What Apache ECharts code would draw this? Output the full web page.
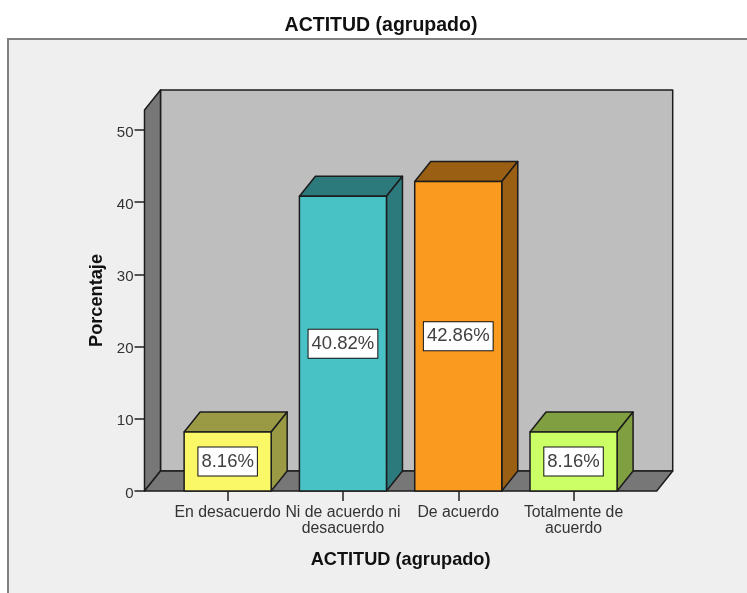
<!DOCTYPE html>
<html>
<head>
<meta charset="utf-8">
<style>html,body{margin:0;padding:0;background:#fff}#chart{width:747px;height:593px}</style>
<script src="https://cdn.jsdelivr.net/npm/echarts@6/dist/echarts.min.js"></script>
</head>
<body>
<div id="chart"></div>
<script>
// ACTITUD (agrupado): percentage per response group, drawn as 3D-style bars
const categories = ['En desacuerdo', 'Ni de acuerdo ni\ndesacuerdo', 'De acuerdo', 'Totalmente de\nacuerdo'];
const percentages = [8.16, 40.82, 42.86, 8.16];
const frontColors = ['#FBF867', '#48C2C5', '#FA9A1E', '#CCFF66'];
const shadeColors = ['#9A9A45', '#2D7A7C', '#9A5F12', '#7F9F40'];
const yTicks = [0, 10, 20, 30, 40, 50];
const yTop = 52.77;

// Oblique projection used for the box depth and the chart frame
const DEPTH_X = 16;
const DEPTH_Y = -20;
const FRAME_PAD = 25.5;
const EDGE = { stroke: '#1c1c1c', lineWidth: 1.5, lineJoin: 'round' };

function poly(points, fill) {
  return { type: 'polygon', shape: { points }, style: Object.assign({ fill }, EDGE) };
}

function renderFrame(params) {
  const c = params.coordSys;
  const l = c.x - FRAME_PAD, r = c.x + c.width + FRAME_PAD;
  const t = c.y, b = c.y + c.height;
  const dx = DEPTH_X, dy = DEPTH_Y;
  return {
    type: 'group',
    children: [
      poly([[l + dx, t + dy], [r + dx, t + dy], [r + dx, b + dy], [l + dx, b + dy]], '#BEBEBE'),
      poly([[l, t], [l + dx, t + dy], [l + dx, b + dy], [l, b]], '#777777'),
      poly([[l, b], [l + dx, b + dy], [r + dx, b + dy], [r, b]], '#777777')
    ]
  };
}

function renderBox(params, api) {
  const i = api.value(0);
  const v = api.value(1);
  const top = api.coord([i, v]);
  const base = api.coord([i, 0]);
  const w = api.size([1, 0])[0] * 0.755;
  const x0 = top[0] - w / 2, x1 = top[0] + w / 2;
  const dx = DEPTH_X, dy = DEPTH_Y;
  return {
    type: 'group',
    children: [
      poly([[x0, top[1]], [x0 + dx, top[1] + dy], [x1 + dx, top[1] + dy], [x1, top[1]]], shadeColors[i]),
      poly([[x1, top[1]], [x1 + dx, top[1] + dy], [x1 + dx, base[1] + dy], [x1, base[1]]], shadeColors[i]),
      poly([[x0, top[1]], [x1, top[1]], [x1, base[1]], [x0, base[1]]], frontColors[i]),
      {
        type: 'text',
        z2: 10,
        style: {
          text: v.toFixed(2) + '%',
          x: top[0],
          y: (top[1] + base[1]) / 2,
          align: 'center',
          verticalAlign: 'middle',
          font: '18.5px "Liberation Sans"',
          fill: '#404040',
          backgroundColor: '#ffffff',
          borderColor: '#111111',
          borderWidth: 1,
          padding: [5, 3, 4, 3]
        }
      }
    ]
  };
}

const chart = echarts.init(document.getElementById('chart'), null, { renderer: 'canvas' });
chart.setOption({
  animation: false,
  backgroundColor: '#ffffff',
  title: {
    text: 'ACTITUD (agrupado)',
    left: 381,
    top: 16,
    padding: 0,
    textAlign: 'center',
    textStyle: { fontFamily: 'Liberation Sans', fontSize: 19.5, fontWeight: 'bold', color: '#111111' }
  },
  graphic: [{
    type: 'rect',
    z: -10,
    shape: { x: 8, y: 39, width: 800, height: 620 },
    style: { fill: '#EFEFEF', stroke: '#808080', lineWidth: 2 }
  }],
  grid: { left: 170, top: 110, width: 461.2, height: 381 },
  xAxis: {
    type: 'category',
    data: categories,
    name: 'ACTITUD (agrupado)',
    nameLocation: 'middle',
    nameGap: 60,
    nameTextStyle: { fontFamily: 'Liberation Sans', fontSize: 18.2, fontWeight: 'bold', color: '#111111' },
    axisLine: { show: false },
    axisTick: { show: true, alignWithLabel: true, length: 10, lineStyle: { color: '#222222', width: 1.5 } },
    axisLabel: {
      interval: 0,
      margin: 13,
      fontFamily: 'Liberation Sans',
      fontSize: 15.8,
      lineHeight: 16.5,
      color: '#333333'
    }
  },
  yAxis: {
    type: 'value',
    min: 0,
    max: yTop,
    offset: FRAME_PAD,
    name: 'Porcentaje',
    nameLocation: 'middle',
    nameGap: 37,
    nameTextStyle: { fontFamily: 'Liberation Sans', fontSize: 18.2, fontWeight: 'bold', color: '#111111' },
    splitLine: { show: false },
    axisLine: { show: false },
    axisTick: { show: true, length: 10, customValues: yTicks, lineStyle: { color: '#222222', width: 1.5 } },
    axisLabel: {
      customValues: yTicks,
      margin: 11,
      formatter: '{n|{value}}',
      rich: {
        n: {
          padding: [5, 0, 0, 0],
          fontFamily: 'Liberation Sans',
          fontSize: 15,
          color: '#333333'
        }
      }
    }
  },
  series: [
    {
      type: 'custom',
      name: 'frame',
      silent: true,
      z: 1,
      renderItem: renderFrame,
      data: [[0, 0]],
      encode: { x: 0, y: 1 }
    },
    {
      type: 'custom',
      name: 'Porcentaje',
      z: 2,
      renderItem: renderBox,
      data: percentages.map((v, i) => [i, v]),
      encode: { x: 0, y: 1 }
    }
  ]
});
</script>
</body>
</html>
